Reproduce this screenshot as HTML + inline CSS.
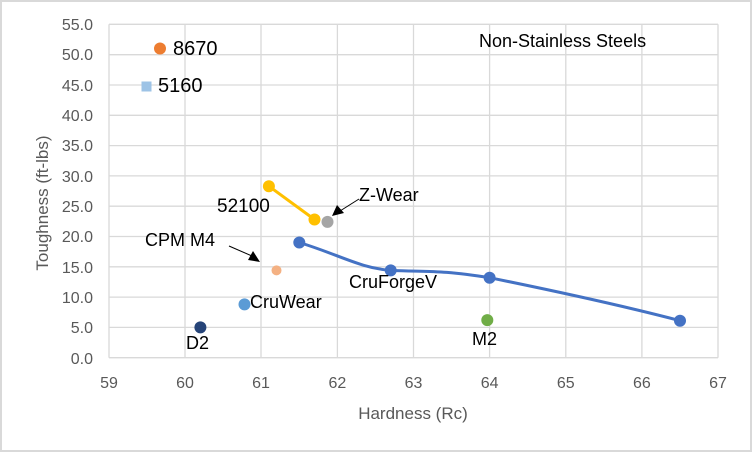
<!DOCTYPE html>
<html><head><meta charset="utf-8"><style>
html,body{margin:0;padding:0;background:#fff}
svg{display:block;font-family:"Liberation Sans",sans-serif}
</style></head><body>
<svg width="752" height="452" viewBox="0 0 752 452">
<rect x="1" y="1" width="750" height="450" fill="#fff" stroke="#d9d9d9" stroke-width="2"/>
<g stroke="#d9d9d9" stroke-width="1.3">
<line x1="109" y1="24.3" x2="718" y2="24.3"/><line x1="109" y1="54.7" x2="718" y2="54.7"/>
<line x1="109" y1="85" x2="718" y2="85"/><line x1="109" y1="115.3" x2="718" y2="115.3"/>
<line x1="109" y1="145.6" x2="718" y2="145.6"/><line x1="109" y1="175.9" x2="718" y2="175.9"/>
<line x1="109" y1="206.2" x2="718" y2="206.2"/><line x1="109" y1="236.5" x2="718" y2="236.5"/>
<line x1="109" y1="266.8" x2="718" y2="266.8"/><line x1="109" y1="297.1" x2="718" y2="297.1"/>
<line x1="109" y1="327.4" x2="718" y2="327.4"/>
<line x1="185" y1="24.3" x2="185" y2="357.7"/><line x1="261" y1="24.3" x2="261" y2="357.7"/>
<line x1="337.4" y1="24.3" x2="337.4" y2="357.7"/><line x1="413.5" y1="24.3" x2="413.5" y2="357.7"/>
<line x1="489.6" y1="24.3" x2="489.6" y2="357.7"/><line x1="565.8" y1="24.3" x2="565.8" y2="357.7"/>
<line x1="641.9" y1="24.3" x2="641.9" y2="357.7"/><line x1="718" y1="24.3" x2="718" y2="357.7"/>
<line x1="109" y1="24.3" x2="109" y2="357.7"/><line x1="109" y1="357.7" x2="718" y2="357.7"/>
</g>
<g fill="#595959" font-size="16" text-anchor="end">
<text x="93" y="30">55.0</text><text x="93" y="60">50.0</text><text x="93" y="91">45.0</text>
<text x="93" y="121">40.0</text><text x="93" y="151">35.0</text><text x="93" y="182">30.0</text>
<text x="93" y="212">25.0</text><text x="93" y="242">20.0</text><text x="93" y="273">15.0</text>
<text x="93" y="303">10.0</text><text x="93" y="333">5.0</text><text x="93" y="364">0.0</text>
</g>
<g fill="#595959" font-size="16" text-anchor="middle">
<text x="109" y="388">59</text><text x="185" y="388">60</text><text x="261" y="388">61</text>
<text x="337.4" y="388">62</text><text x="413.5" y="388">63</text><text x="489.6" y="388">64</text>
<text x="565.8" y="388">65</text><text x="641.9" y="388">66</text><text x="718" y="388">67</text>
<text x="413" y="419" font-size="17">Hardness (Rc)</text>
<text transform="translate(48,203) rotate(-90)" font-size="17">Toughness (ft-lbs)</text>
</g>
<path d="M299.3,242.5 C340,255 360,268 390.7,270.4 C430,272 440,270 489.6,277.7 C560,292 620,305 680,320.7" fill="none" stroke="#4472c4" stroke-width="3"/>
<line x1="268.9" y1="186.2" x2="314.5" y2="219.5" stroke="#ffc000" stroke-width="3"/>
<g>
<circle cx="160" cy="48.5" r="6" fill="#ed7d31"/>
<rect x="141.5" y="81.5" width="10" height="10" fill="#9dc3e6"/>
<circle cx="268.9" cy="186.2" r="6" fill="#ffc000"/><circle cx="314.5" cy="219.5" r="6" fill="#ffc000"/>
<circle cx="327.5" cy="221.9" r="6" fill="#a5a5a5"/>
<circle cx="276.5" cy="270.4" r="5" fill="#f4b183"/>
<circle cx="244.5" cy="304.4" r="6" fill="#5b9bd5"/>
<circle cx="200.4" cy="327.4" r="6" fill="#264478"/>
<circle cx="487.3" cy="320.1" r="6" fill="#70ad47"/>
<circle cx="299.3" cy="242.5" r="6" fill="#4472c4"/><circle cx="390.7" cy="270.4" r="6" fill="#4472c4"/>
<circle cx="489.6" cy="277.7" r="6" fill="#4472c4"/><circle cx="680" cy="320.7" r="6" fill="#4472c4"/>
</g>
<line x1="359" y1="199" x2="340" y2="211" stroke="#000" stroke-width="1"/>
<polygon points="332,216 337,205 344,213" fill="#000"/>
<line x1="229" y1="246" x2="252" y2="256" stroke="#000" stroke-width="1"/>
<polygon points="260,262 248,260 253,251" fill="#000"/>
<g fill="#000" font-size="18">
<text x="173" y="55" font-size="20">8670</text>
<text x="158" y="92" font-size="20">5160</text>
<text x="217" y="212" font-size="19">52100</text>
<text x="359" y="201">Z-Wear</text>
<text x="145" y="246">CPM M4</text>
<text x="250" y="308">CruWear</text>
<text x="186" y="349">D2</text>
<text x="349" y="288">CruForgeV</text>
<text x="472" y="345">M2</text>
<text x="479" y="47">Non-Stainless Steels</text>
</g>
</svg>
</body></html>
